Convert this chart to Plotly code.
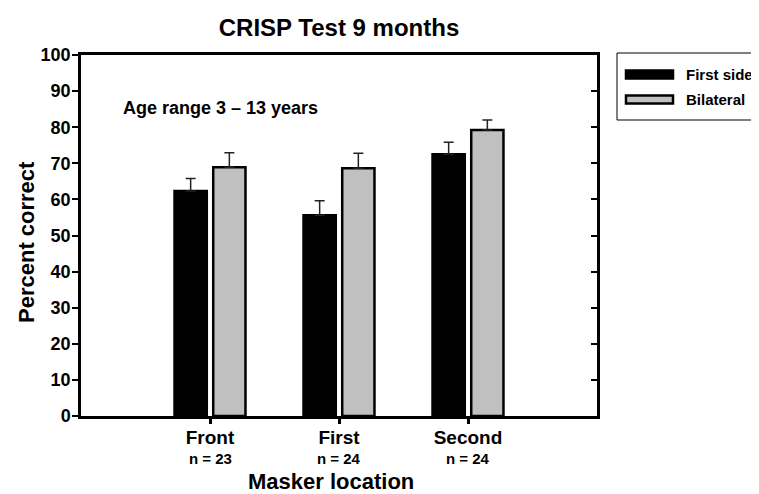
import plotly.graph_objects as go

categories = ["Front", "First", "Second"]
n_labels = ["n = 23", "n = 24", "n = 24"]
first_side = [62.3, 55.6, 72.5]
first_side_err = [3.5, 4.0, 3.3]
bilateral = [68.9, 68.6, 79.2]
bilateral_err = [4.0, 4.2, 2.8]
y_ticks = [0, 10, 20, 30, 40, 50, 60, 70, 80, 90, 100]

FONT = "Arial, Liberation Sans, Helvetica, sans-serif"
WIN_W, WIN_H = 759, 494
OFF = 8  # default page body margin
W, H = WIN_W - OFF, WIN_H - OFF
# plot area in window pixels
L, R, T, B = 81, 597, 55, 416

xpos = [1, 2, 3]

def px_x(p):
    return (p - L) / (R - L)

def px_y(p):
    return (B - p) / (B - T)

fig = go.Figure()
fig.add_trace(go.Bar(
    x=xpos, y=first_side, width=0.25, offset=-0.275,
    marker=dict(color="black", line=dict(color="black", width=2.5)),
    error_y=dict(type="data", symmetric=False, array=first_side_err,
                 arrayminus=[0, 0, 0], color="#222222", thickness=1.5, width=5),
    name="First side", showlegend=False,
))
fig.add_trace(go.Bar(
    x=xpos, y=bilateral, width=0.25, offset=0.025,
    marker=dict(color="#c0c0c0", line=dict(color="black", width=2.5)),
    error_y=dict(type="data", symmetric=False, array=bilateral_err,
                 arrayminus=[0, 0, 0], color="#222222", thickness=1.5, width=5),
    name="Bilateral", showlegend=False,
))
# invisible trace to activate right-side axis for inward ticks
fig.add_trace(go.Scatter(x=[None], y=[None], yaxis="y2", showlegend=False))

fig.update_layout(
    width=W, height=H,
    margin=dict(l=L - OFF, r=WIN_W - R, t=T - OFF, b=WIN_H - B, pad=0, autoexpand=False),
    plot_bgcolor="white", paper_bgcolor="white",
    barmode="overlay",
    font=dict(family=FONT, color="black"),
    title=dict(text="<b>CRISP Test 9 months</b>", x=(339 - OFF) / W, xanchor="center",
               y=1 - (28 - OFF) / H, yanchor="middle", yref="container",
               font=dict(size=24, family=FONT, color="black")),
    xaxis=dict(range=[0, 4], tickvals=xpos, ticktext=[f"<b>{c}</b>" for c in categories],
               showline=True, linecolor="black", linewidth=2.5, mirror=True,
               ticks="outside", ticklen=5, tickwidth=2.5, tickcolor="black",
               ticklabelstandoff=-3,
               showgrid=False, zeroline=False, automargin=False,
               tickfont=dict(size=19, family=FONT, color="black")),
    yaxis=dict(range=[0, 100], tickvals=y_ticks,
               showline=True, linecolor="black", linewidth=2.5, mirror=True,
               ticks="outside", ticklen=6, tickwidth=2, tickcolor="black",
               ticklabelstandoff=-2,
               showgrid=False, zeroline=False, automargin=False,
               tickfont=dict(size=18, family=FONT, color="black", weight="bold")),
    yaxis2=dict(range=[0, 100], tickvals=y_ticks, overlaying="y", side="right",
                ticks="inside", ticklen=6, tickwidth=2, tickcolor="black",
                showticklabels=False, showgrid=False, zeroline=False, showline=False,
                automargin=False),
)

# n labels under categories
for xv, nl in zip(xpos, n_labels):
    fig.add_annotation(text=f"<b>{nl}</b>", xref="x", yref="paper", x=xv, y=px_y(458),
                       xanchor="center", yanchor="middle", showarrow=False,
                       font=dict(size=15, family=FONT, color="black"))

# axis titles
fig.add_annotation(text="<b>Masker location</b>", xref="paper", yref="paper",
                   x=px_x(331), y=px_y(481), xanchor="center", yanchor="middle",
                   showarrow=False, font=dict(size=22, family=FONT, color="black"))
fig.add_annotation(text="<b>Percent correct</b>", xref="paper", yref="paper",
                   x=px_x(27), y=px_y(242), xanchor="center", yanchor="middle",
                   textangle=-90, showarrow=False,
                   font=dict(size=22, family=FONT, color="black"))

fig.add_annotation(text="<b>Age range 3 \u2013 13 years</b>", xref="paper", yref="paper",
                   x=px_x(121), y=px_y(108), xanchor="left", yanchor="middle",
                   showarrow=False, font=dict(size=18, family=FONT, color="black"))

# custom legend
fig.add_shape(type="rect", xref="paper", yref="paper",
              x0=px_x(617), x1=px_x(775), y0=px_y(120), y1=px_y(53),
              line=dict(color="black", width=1), fillcolor="white", layer="above")
for yc, fill, label in [(74.5, "black", "First side"), (99.5, "#c0c0c0", "Bilateral")]:
    fig.add_shape(type="rect", xref="paper", yref="paper",
                  x0=px_x(626), x1=px_x(673), y0=px_y(yc + 4), y1=px_y(yc - 4),
                  line=dict(color="black", width=2.5), fillcolor=fill, layer="above")
    fig.add_annotation(text=f"<b>{label}</b>", xref="paper", yref="paper",
                       x=px_x(684), y=px_y(yc), xanchor="left", yanchor="middle",
                       showarrow=False, font=dict(size=15, family=FONT, color="black"))

fig.write_html("out.html")
